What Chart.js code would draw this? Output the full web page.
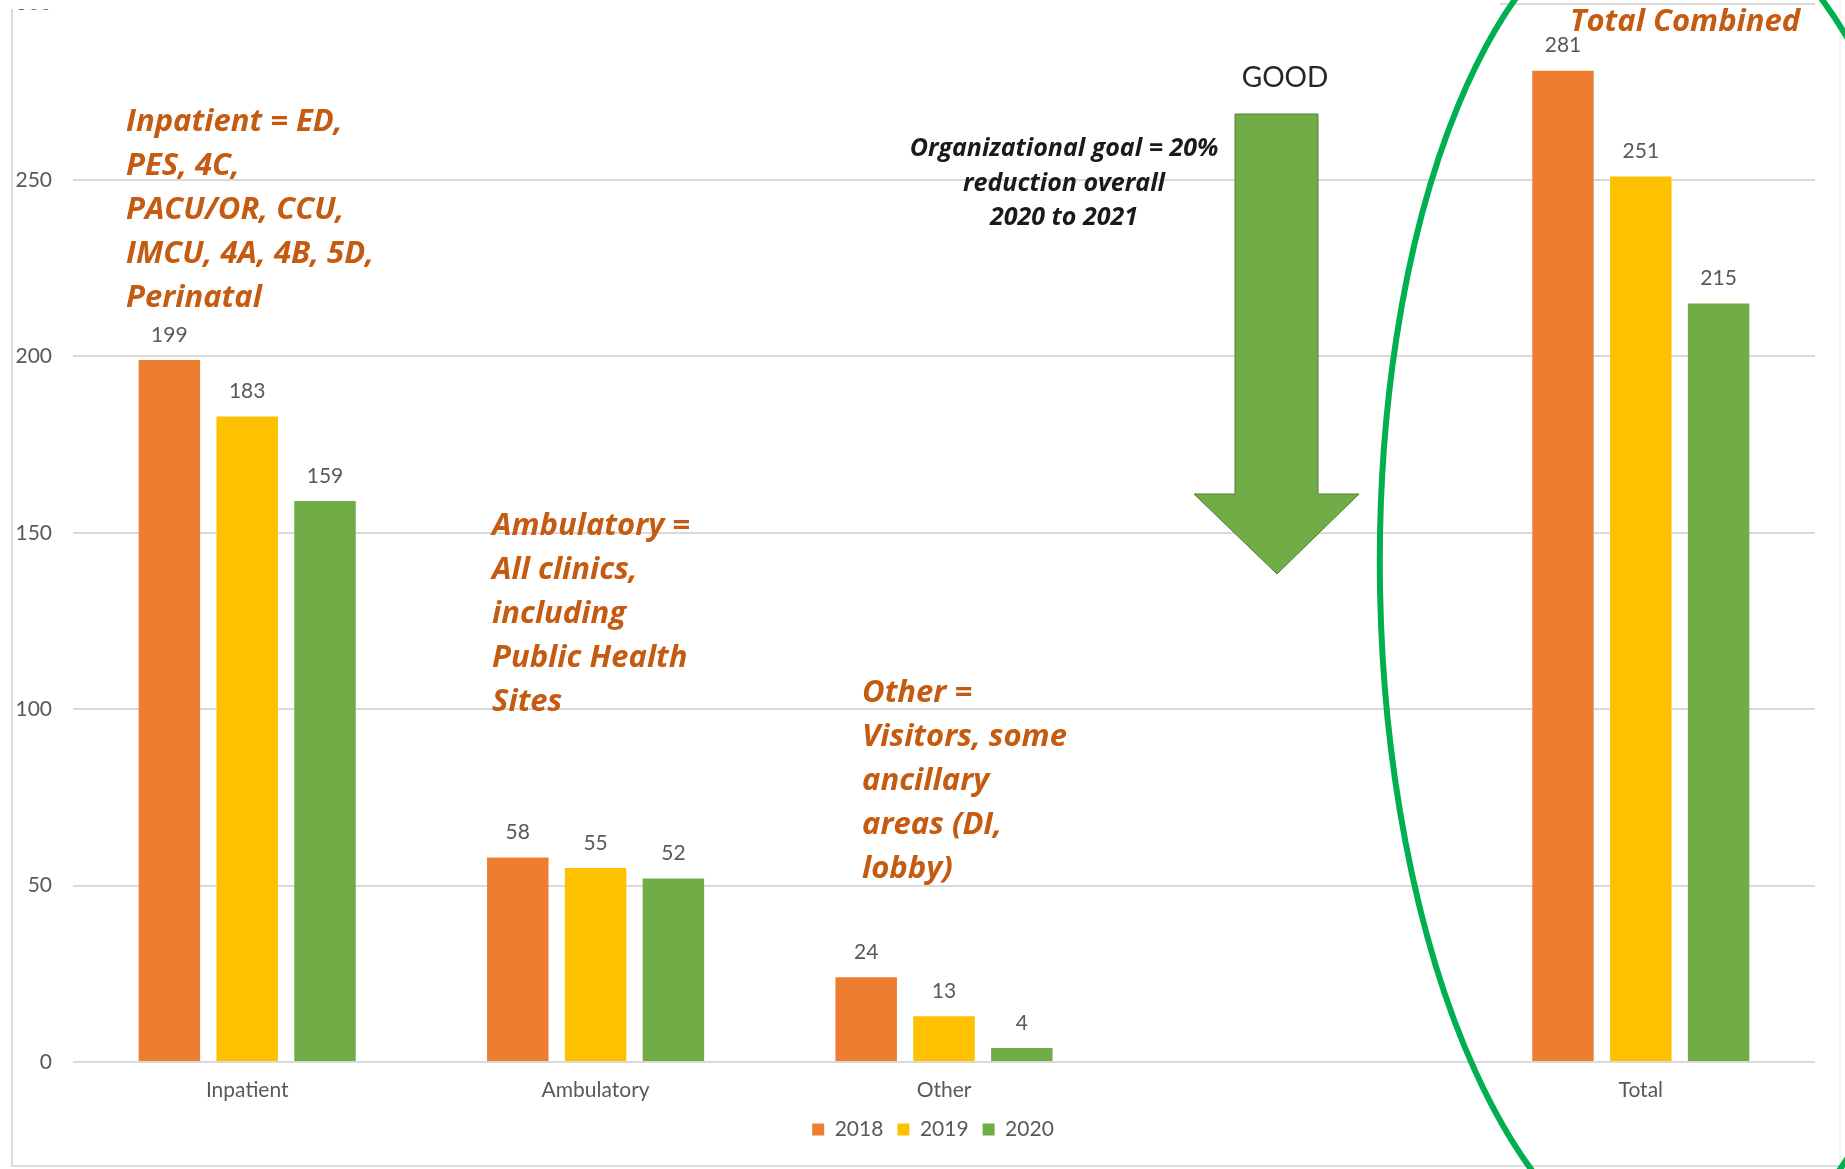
<!DOCTYPE html>
<html>
<head>
<meta charset="utf-8">
<script src="https://cdn.jsdelivr.net/npm/chart.js@4.4.0/dist/chart.umd.min.js"></script>
<style>
  html, body { margin: 0; padding: 0; background: #fff; overflow: hidden; }
  #wrap { position: relative; width: 1845px; height: 1169px; overflow: hidden; }
  #myChart { position: absolute; left: 0; top: -30px; }
</style>
</head>
<body>
<div id="wrap"><canvas id="myChart" width="1845" height="1199"></canvas></div>
<script>
// data
const categories = ['Inpatient', 'Ambulatory', 'Other', '', 'Total'];
const years = ['2018', '2019', '2020'];
const values2018 = [199, 58, 24, null, 281];
const values2019 = [183, 55, 13, null, 251];
const values2020 = [159, 52, 4, null, 215];
const yTicks = [0, 50, 100, 150, 200, 250, 300];

const inpatientNote = ['Inpatient = ED,', 'PES, 4C,', 'PACU/OR, CCU,', 'IMCU, 4A, 4B, 5D,', 'Perinatal'];
const ambulatoryNote = ['Ambulatory =', 'All clinics,', 'including', 'Public Health', 'Sites'];
const otherNote = ['Other =', 'Visitors, some', 'ancillary', 'areas (DI,', 'lobby)'];
const goalNote = ['Organizational goal = 20%', 'reduction overall', '2020 to 2021'];

const OFF = 30; // canvas is shifted up so the 300 label is cut like the original
const noteColor = '#C55A11';
const noteFont = 'italic bold 31px "Open Sans"';

function drawLines(ctx, lines, x, y, step, align) {
    ctx.textAlign = align;
    lines.forEach((t, i) => ctx.fillText(t, x, y + i * step));
}

const extras = {
    id: 'extras',
    afterLayout(chart) {
        // legend sits a bit right of the canvas centre in the original
        chart.legend.left += 51;
    },
    beforeDraw(chart) {
        const ctx = chart.ctx;
        ctx.save();
        ctx.translate(0, OFF);
        ctx.strokeStyle = '#dcdcdc';
        ctx.lineWidth = 2;
        ctx.beginPath();
        ctx.moveTo(12, 0);
        ctx.lineTo(12, 1166);
        ctx.lineTo(1840, 1166);
        ctx.stroke();
        ctx.strokeStyle = '#efefef';
        ctx.lineWidth = 1.5;
        ctx.beginPath();
        ctx.moveTo(1840, 1166);
        ctx.lineTo(1840, 0);
        ctx.stroke();
        ctx.restore();
    },
    afterDatasetsDraw(chart) {
        const ctx = chart.ctx;
        ctx.save();
        // value labels
        ctx.font = '21px Lato';
        ctx.fillStyle = '#595959';
        ctx.textAlign = 'center';
        ctx.textBaseline = 'middle';
        chart.data.datasets.forEach((ds, di) => {
            chart.getDatasetMeta(di).data.forEach((bar, i) => {
                if (ds.data[i] == null) return;
                ctx.fillText(ds.data[i], bar.x, bar.y - 25);
            });
        });

        ctx.translate(0, OFF);
        // notes
        ctx.font = noteFont;
        ctx.fillStyle = noteColor;
        drawLines(ctx, inpatientNote, 126, 122, 44, 'left');
        drawLines(ctx, ambulatoryNote, 492, 526, 44, 'left');
        drawLines(ctx, otherNote, 862, 693, 44, 'left');
        ctx.fillText('Total Combined', 1570, 22);

        ctx.font = 'italic bold 25px "Open Sans"';
        ctx.fillStyle = '#1a1a1a';
        drawLines(ctx, goalNote, 1064, 149, 34.5, 'center');

        ctx.font = '28px Lato';
        ctx.fillStyle = '#262626';
        ctx.textAlign = 'center';
        ctx.fillText('GOOD', 1285, 78);

        // arrow
        ctx.beginPath();
        ctx.moveTo(1235, 114);
        ctx.lineTo(1318, 114);
        ctx.lineTo(1318, 494);
        ctx.lineTo(1359, 494);
        ctx.lineTo(1277, 574);
        ctx.lineTo(1194, 494);
        ctx.lineTo(1235, 494);
        ctx.closePath();
        ctx.fillStyle = '#70AD47';
        ctx.fill();
        ctx.strokeStyle = '#507E32';
        ctx.lineWidth = 1;
        ctx.stroke();
        ctx.restore();
    },
    afterDraw(chart) {
        const ctx = chart.ctx;
        ctx.save();
        ctx.translate(0, OFF);
        // the original picture is cropped just under the 300 line
        ctx.fillStyle = '#fff';
        ctx.fillRect(0, -OFF, 1500, OFF + 9);

        // ellipse round the totals
        ctx.beginPath();
        ctx.ellipse(1677, 585, 297, 684, -0.018, 0, Math.PI * 2);
        ctx.strokeStyle = '#00B050';
        ctx.lineWidth = 6;
        ctx.stroke();
        ctx.restore();
    }
};

const ctx = document.getElementById('myChart').getContext('2d');
const myChart = new Chart(ctx, {
    type: 'bar',
    data: {
        labels: categories,
        datasets: [
            { label: years[0], data: values2018, backgroundColor: '#ED7D31' },
            { label: years[1], data: values2019, backgroundColor: '#FFC000' },
            { label: years[2], data: values2020, backgroundColor: '#70AD47' }
        ]
    },
    options: {
        responsive: false,
        animation: false,
        devicePixelRatio: 1,
        categoryPercentage: 0.67,
        barPercentage: 0.79,
        layout: { padding: { left: 0, right: 30, top: 0, bottom: 19 } },
        plugins: {
            tooltip: { enabled: false },
            legend: {
                position: 'bottom',
                labels: {
                    boxWidth: 12,
                    boxHeight: 12,
                    padding: 14,
                    color: '#595959',
                    font: { family: 'Lato', size: 21 }
                }
            }
        },
        scales: {
            x: {
                grid: { display: false, drawTicks: false },
                border: { display: false },
                ticks: { color: '#595959', font: { family: 'Lato', size: 21 }, padding: 16 },
                afterFit: (s) => { s.height = 43; }
            },
            y: {
                min: 0,
                max: 300,
                afterBuildTicks: (s) => { s.ticks = yTicks.map(v => ({ value: v })); },
                grid: { color: '#d9d9d9', lineWidth: 2, drawTicks: false },
                border: { display: false },
                ticks: { color: '#595959', font: { family: 'Lato', size: 21 }, padding: 21 },
                afterFit: (s) => { s.width = 73; }
            }
        }
    },
    plugins: [extras]
});
</script>
</body>
</html>
